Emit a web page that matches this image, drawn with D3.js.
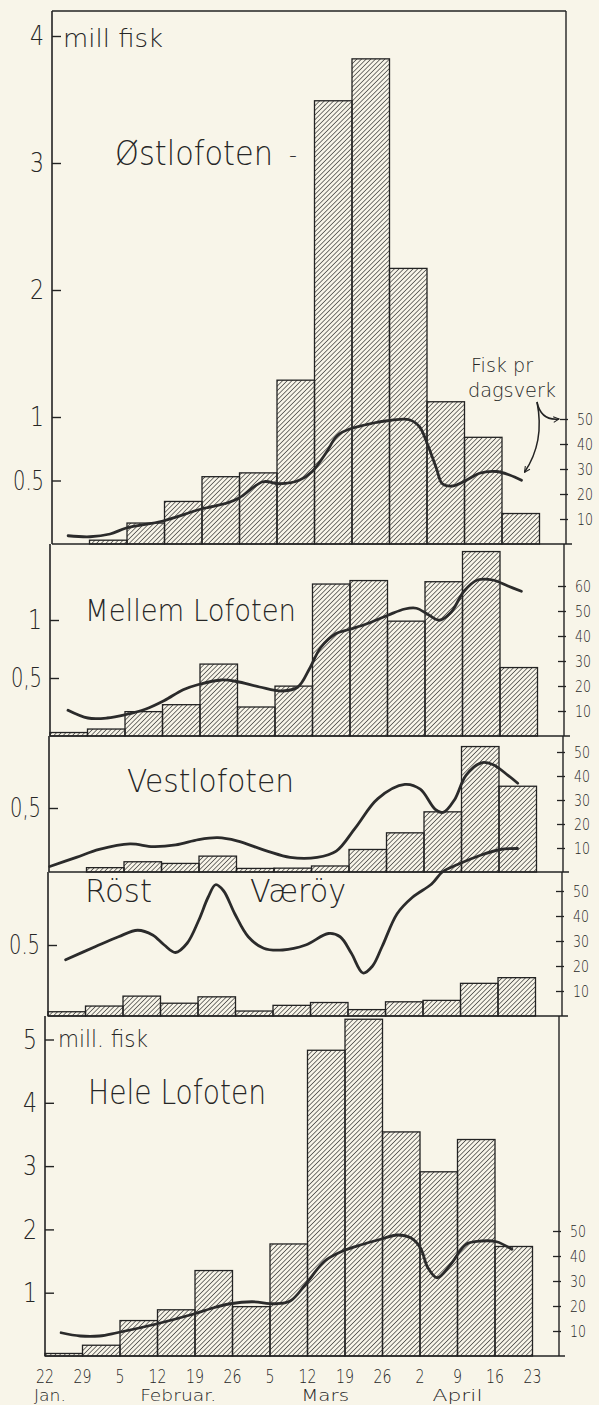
<!DOCTYPE html>
<html>
<head>
<meta charset="utf-8">
<script src="https://cdn.jsdelivr.net/npm/d3@7"></script>
<style>
  body { margin: 0; background: #f8f5e9; }
  svg { display: block; }
  text { font-family: "DejaVu Sans", sans-serif; font-weight: 300; fill: #262626; }
</style>
</head>
<body>
<div id="chart"></div>
<script>
// week ticks (22 Jan .. 23 April) and months
const weekLabels = ["22", "29", "5", "12", "19", "26", "5", "12", "19", "26", "2", "9", "16", "23"];
const monthLabels = ["Jan.", "Februar.", "Mars", "April"];

// catch per week, mill. fisk
const ostBars    = [0, 0.03, 0.165, 0.335, 0.53, 0.56, 1.29, 3.49, 3.82, 2.17, 1.12, 0.84, 0.24];
const mellemBars = [0.03, 0.06, 0.21, 0.27, 0.62, 0.25, 0.43, 1.31, 1.34, 0.99, 1.33, 1.59, 0.59];
const vestBars   = [0, 0.034, 0.08, 0.067, 0.124, 0.028, 0.03, 0.047, 0.176, 0.306, 0.47, 0.98, 0.67];
const rostBars   = [0.03, 0.07, 0.14, 0.09, 0.135, 0.035, 0.075, 0.095, 0.045, 0.1, 0.11, 0.23, 0.27];
const heleBars   = [0.04, 0.17, 0.56, 0.73, 1.35, 0.78, 1.77, 4.83, 5.32, 3.54, 2.91, 3.42, 1.73];

// fisk pr dagsverk (position in weeks from 22 Jan, value)
const ostCurveWeek  = [0.43, 1.01, 1.55, 1.98, 2.96, 3.98, 4.67, 4.99, 5.63, 6.06, 6.59, 6.94, 7.31, 7.61, 7.98, 8.54, 9.0, 9.53, 9.8, 10.01, 10.25, 10.41, 10.68, 11.05, 11.4, 11.85, 12.2, 12.52];
const ostCurveValue = [3.3, 2.9, 4, 6.4, 9.2, 14, 16.4, 18.4, 24.9, 24.1, 25.5, 29, 36.5, 43.4, 46.2, 48.3, 49.4, 49.7, 46.9, 40, 30.3, 24.1, 23.2, 25.5, 28.3, 29, 27.6, 25.5];

const mellemCurveWeek  = [0.48, 1.01, 1.52, 2.03, 2.54, 3.05, 3.55, 3.96, 4.57, 4.98, 5.59, 6.2, 6.61, 6.92, 7.22, 7.63, 8.0, 8.45, 9.01, 9.46, 9.77, 10.07, 10.38, 10.69, 11.04, 11.4, 11.81, 12.21, 12.57];
const mellemCurveValue = [10.3, 7.2, 7.2, 8.6, 10.7, 14.2, 18.5, 20.6, 22.4, 21.8, 19.6, 18, 19.6, 26.9, 35.4, 41, 42.7, 44.9, 48.3, 50.8, 51.1, 48.7, 46.3, 49.4, 57.9, 62.4, 62.4, 60, 57.9];

const vestCurveWeek  = [0.02, 0.73, 1.34, 2.16, 2.77, 3.38, 3.99, 4.5, 5.01, 5.82, 6.43, 7.15, 7.66, 8.17, 8.77, 9.49, 9.9, 10.3, 10.51, 10.81, 11.12, 11.53, 11.83, 12.24, 12.5];
const vestCurveValue = [2.3, 6.1, 9.4, 11.7, 10.6, 11.3, 13.5, 14.3, 13, 8.7, 6.1, 6.1, 8.7, 18.4, 30.6, 36.5, 34.5, 26.1, 24.8, 30, 40.3, 45.5, 44.8, 40.3, 37];

const rostCurveWeek  = [0.47, 1.27, 1.88, 2.39, 2.79, 3.1, 3.4, 3.71, 4.02, 4.27, 4.47, 4.68, 4.98, 5.34, 5.75, 6.26, 6.87, 7.48, 7.79, 8.09, 8.4, 8.65, 8.91, 9.31, 9.72, 10.23, 10.53, 10.94, 11.55, 12.06, 12.52];
const rostCurveValue = [22.5, 27.8, 31.7, 34.3, 32.4, 28.4, 25.4, 29.1, 38.3, 47.5, 52.5, 50.1, 40.9, 31.7, 27.1, 26.4, 28.4, 33, 31.7, 25.1, 17.2, 19.9, 27.8, 40.9, 47.5, 52.8, 57.8, 60.7, 64.4, 66.6, 67];

const heleCurveWeek  = [0.43, 0.94, 1.45, 1.92, 2.94, 3.94, 4.5, 4.94, 5.52, 6.13, 6.54, 6.95, 7.46, 7.94, 8.48, 8.95, 9.39, 9.75, 10.01, 10.21, 10.46, 10.82, 11.23, 11.64, 12.04, 12.45];
const heleCurveValue = [9.3, 8, 8, 9.3, 12.7, 16.7, 19.3, 20.9, 21.7, 20.9, 22, 28.7, 38, 42, 44.7, 46.7, 48.4, 47.3, 43.3, 35.3, 31.3, 36.7, 44.7, 46, 45.7, 42.7];

// left and right tick values / labels per panel
const ostLeftTicks = [0.5, 1, 2, 3, 4],  ostLeftLabels = ["0.5", "1", "2", "3", "4"];
const mellemLeftTicks = [0.5, 1],        mellemLeftLabels = ["0,5", "1"];
const vestLeftTicks = [0.5],             vestLeftLabels = ["0,5"];
const rostLeftTicks = [0.5],             rostLeftLabels = ["0.5"];
const heleLeftTicks = [1, 2, 3, 4, 5],   heleLeftLabels = ["1", "2", "3", "4", "5"];
const rightTicks50 = [10, 20, 30, 40, 50];
const rightTicks60 = [10, 20, 30, 40, 50, 60];

// panel layout (pixels)
const panels = [
  { bars: ostBars, cw: ostCurveWeek, cv: ostCurveValue, lt: ostLeftTicks, ll: ostLeftLabels, rt: rightTicks50,
    top: 11, base: 544, left: 52, unit: 127, rStep: 2.5 },
  { bars: mellemBars, cw: mellemCurveWeek, cv: mellemCurveValue, lt: mellemLeftTicks, ll: mellemLeftLabels, rt: rightTicks60,
    top: 544, base: 736, left: 50, unit: 116, rStep: 2.5 },
  { bars: vestBars, cw: vestCurveWeek, cv: vestCurveValue, lt: vestLeftTicks, ll: vestLeftLabels, rt: rightTicks50,
    top: 736, base: 872, left: 49, unit: 128, rStep: 2.4 },
  { bars: rostBars, cw: rostCurveWeek, cv: rostCurveValue, lt: rostLeftTicks, ll: rostLeftLabels, rt: rightTicks50,
    top: 872, base: 1016, left: 48, unit: 142, rStep: 2.5 },
  { bars: heleBars, cw: heleCurveWeek, cv: heleCurveValue, lt: heleLeftTicks, ll: heleLeftLabels, rt: rightTicks50,
    top: 1016, base: 1356, left: 45, unit: 63.3, rStep: 2.5 }
];

const width = 599, height = 1405;
const weekW = 37.5, rightGap = 514;
const ink = "#232323";

const svg = d3.select("#chart").append("svg")
  .attr("width", width)
  .attr("height", height);

// hatch fill for the bars
const defs = svg.append("defs");
defs.append("pattern")
  .attr("id", "hatch")
  .attr("patternUnits", "userSpaceOnUse")
  .attr("width", 3.3)
  .attr("height", 3.3)
  .attr("patternTransform", "rotate(45)")
  .append("line")
  .attr("x1", 0).attr("y1", 0).attr("x2", 0).attr("y2", 3.3)
  .attr("stroke", "#262626")
  .attr("stroke-width", 1.25);

defs.append("marker")
  .attr("id", "arrow")
  .attr("viewBox", "0 0 10 10")
  .attr("refX", 9).attr("refY", 5)
  .attr("markerWidth", 7).attr("markerHeight", 7)
  .attr("markerUnits", "userSpaceOnUse")
  .attr("orient", "auto")
  .append("path")
  .attr("d", "M1,1 L9,5 L1,9")
  .attr("fill", "none")
  .attr("stroke", ink)
  .attr("stroke-width", 1.5);

const scales = [];

panels.forEach(function (p) {
  var x = d3.scaleLinear().domain([0, 13]).range([p.left, p.left + 13 * weekW]);
  var y = d3.scaleLinear().domain([0, 1]).range([p.base, p.base - p.unit]);
  var yr = d3.scaleLinear().domain([0, 10]).range([p.base, p.base - 10 * p.rStep]);
  var right = p.left + rightGap;
  scales.push({ x: x, y: y, yr: yr, right: right });

  var g = svg.append("g");

  // bars
  g.selectAll("rect")
    .data(p.bars)
    .enter()
    .append("rect")
    .attr("x", function (d, i) { return x(i); })
    .attr("width", weekW)
    .attr("y", function (d) { return y(d); })
    .attr("height", function (d) { return p.base - y(d); })
    .attr("fill", "url(#hatch)")
    .attr("stroke", ink)
    .attr("stroke-width", 1.3);

  // frame: left axis, right axis, baseline
  g.append("line")
    .attr("x1", p.left).attr("x2", p.left)
    .attr("y1", p.top).attr("y2", p.base)
    .attr("stroke", ink).attr("stroke-width", 1.6);
  g.append("line")
    .attr("x1", right).attr("x2", right)
    .attr("y1", p.top).attr("y2", p.base)
    .attr("stroke", ink).attr("stroke-width", 1.4);
  g.append("line")
    .attr("x1", p.left).attr("x2", right + 6)
    .attr("y1", p.base).attr("y2", p.base)
    .attr("stroke", ink).attr("stroke-width", 1.6);

  // left axis (mill. fisk)
  var la = g.append("g")
    .attr("transform", "translate(" + p.left + ",0)")
    .call(d3.axisLeft(y)
      .tickValues(p.lt)
      .tickSize(-9)
      .tickPadding(8)
      .tickFormat(function (d, i) { return p.ll[i]; }));
  la.select(".domain").remove();
  la.selectAll(".tick line").attr("stroke", ink).attr("stroke-width", 1.4);
  la.selectAll(".tick text")
    .style("font-size", "27px")
    .attr("fill", ink)
    .attr("textLength", function (d, i) { return p.ll[i].length > 1 ? 31 : 14; })
    .attr("lengthAdjust", "spacingAndGlyphs");

  // right axis (fisk pr dagsverk)
  var ra = g.append("g")
    .attr("transform", "translate(" + right + ",0)")
    .call(d3.axisRight(yr)
      .tickValues(p.rt)
      .tickSize(2)
      .tickPadding(9));
  ra.select(".domain").remove();
  ra.selectAll(".tick line").attr("x1", -6).attr("stroke", ink).attr("stroke-width", 1.3);
  ra.selectAll(".tick text")
    .style("font-size", "16px")
    .attr("fill", ink)
    .attr("textLength", 16)
    .attr("lengthAdjust", "spacingAndGlyphs");

  // curve
  var pts = p.cw.map(function (w, i) { return [w, p.cv[i]]; });
  g.append("path")
    .datum(pts)
    .attr("fill", "none")
    .attr("stroke", "#2b2b2b")
    .attr("stroke-width", 2.8)
    .attr("stroke-linecap", "round")
    .attr("d", d3.line()
      .x(function (d) { return x(d[0]); })
      .y(function (d) { return yr(d[1]); })
      .curve(d3.curveCatmullRom.alpha(0.5)));
});

// top frame line
svg.append("line")
  .attr("x1", panels[0].left).attr("x2", scales[0].right)
  .attr("y1", panels[0].top).attr("y2", panels[0].top)
  .attr("stroke", ink).attr("stroke-width", 1.4);

// titles and notes
function label(txt, x, y, size, len) {
  var t = svg.append("text")
    .attr("x", x).attr("y", y)
    .style("font-size", size + "px")
    .text(txt);
  if (len) t.attr("textLength", len).attr("lengthAdjust", "spacingAndGlyphs");
  return t;
}

label("mill fisk", 63, 47, 25, 100);
label("Østlofoten", 115, 165, 34, 158);
label("-", 289, 162, 22);
label("Fisk pr", 471, 372, 19, 62);
label("dagsverk", 468, 397, 19, 88);
label("Mellem Lofoten", 85, 621, 30, 211);
label("Vestlofoten", 127, 792, 32, 167);
label("Röst", 85, 902, 32, 67);
label("Væröy", 250, 902, 32, 96);
label("mill. fisk", 58, 1047, 23, 90);
label("Hele Lofoten", 88, 1104, 33, 178);

// arrows from "dagsverk" to the right scale and to the curve
var s0 = scales[0];
var ax = 537, ay = 402;
svg.append("path")
  .attr("d", "M" + ax + "," + ay + " Q" + (ax + 4) + "," + (s0.yr(50) + 2) + " " + (s0.right - 7) + "," + s0.yr(50))
  .attr("fill", "none").attr("stroke", ink).attr("stroke-width", 1.5)
  .attr("marker-end", "url(#arrow)");
var endX = s0.x(ostCurveWeek[ostCurveWeek.length - 1]) + 3;
var endY = s0.yr(ostCurveValue[ostCurveValue.length - 1]) - 8;
svg.append("path")
  .attr("d", "M" + ax + "," + ay + " Q" + (ax + 8) + "," + (ay + 40) + " " + endX + "," + endY)
  .attr("fill", "none").attr("stroke", ink).attr("stroke-width", 1.5)
  .attr("marker-end", "url(#arrow)");

// week labels under the bottom panel
var sb = scales[4];
svg.append("g")
  .selectAll("text")
  .data(weekLabels)
  .enter()
  .append("text")
  .attr("x", function (d, i) { return sb.x(i); })
  .attr("y", 1382.5)
  .attr("text-anchor", "middle")
  .style("font-size", "19px")
  .attr("textLength", function (d) { return d.length * 9; })
  .attr("lengthAdjust", "spacingAndGlyphs")
  .text(function (d) { return d; });

var monthAt = [0.13, 3.55, 7.47, 11.0];
var monthLen = [32, 76, 48, 50];
svg.append("g")
  .selectAll("text")
  .data(monthLabels)
  .enter()
  .append("text")
  .attr("x", function (d, i) { return sb.x(monthAt[i]); })
  .attr("y", 1401.3)
  .attr("text-anchor", "middle")
  .style("font-size", "15px")
  .attr("textLength", function (d, i) { return monthLen[i]; })
  .attr("lengthAdjust", "spacingAndGlyphs")
  .text(function (d) { return d; });
</script>
</body>
</html>
